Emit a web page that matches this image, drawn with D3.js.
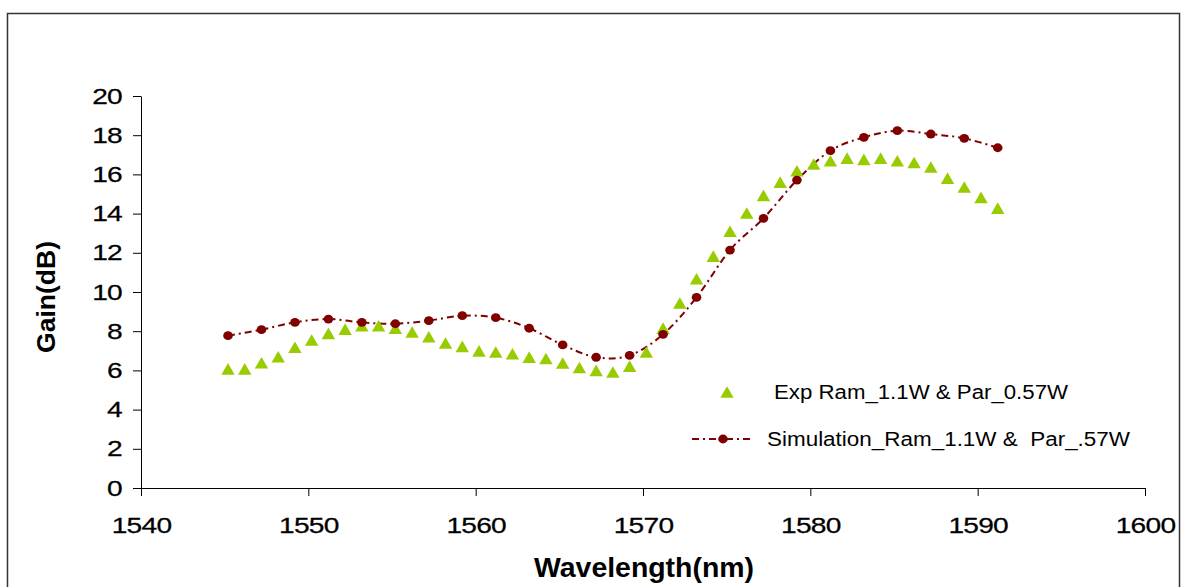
<!DOCTYPE html>
<html>
<head>
<meta charset="utf-8">
<script src="https://cdn.jsdelivr.net/npm/d3@7"></script>
<style>
  body { margin: 0; background: #fff; }
  text { font-family: Arial, "Liberation Sans", sans-serif; }
</style>
</head>
<body>
<div id="container"></div>
<script>
// measured data
const expWave = [1545.2, 1546.2, 1547.2, 1548.2, 1549.2, 1550.2, 1551.2, 1552.2, 1553.2, 1554.2,
    1555.2, 1556.2, 1557.2, 1558.2, 1559.2, 1560.2, 1561.2, 1562.2, 1563.2, 1564.2,
    1565.2, 1566.2, 1567.2, 1568.2, 1569.2, 1570.2, 1571.2, 1572.2, 1573.2, 1574.2,
    1575.2, 1576.2, 1577.2, 1578.2, 1579.2, 1580.2, 1581.2, 1582.2, 1583.2, 1584.2,
    1585.2, 1586.2, 1587.2, 1588.2, 1589.2, 1590.2, 1591.2];
const expGain = [5.98, 5.98, 6.29, 6.6, 7.08, 7.45, 7.79, 8.01, 8.18, 8.18,
    8.06, 7.86, 7.62, 7.3, 7.13, 6.9, 6.84, 6.75, 6.58, 6.51,
    6.28, 6.05, 5.9, 5.82, 6.12, 6.84, 8.06, 9.34, 10.58, 11.73,
    13.0, 13.93, 14.83, 15.51, 16.09, 16.43, 16.6, 16.73, 16.67, 16.73,
    16.6, 16.51, 16.28, 15.71, 15.26, 14.73, 14.18];

const simWave = [1545.2, 1547.2, 1549.2, 1551.2, 1553.2, 1555.2, 1557.2, 1559.2, 1561.2, 1563.2,
    1565.2, 1567.2, 1569.2, 1571.2, 1573.2, 1575.2, 1577.2, 1579.2, 1581.2, 1583.2,
    1585.2, 1587.2, 1589.2, 1591.2];
const simGain = [7.77, 8.08, 8.45, 8.62, 8.45, 8.38, 8.54, 8.79, 8.69, 8.15,
    7.3, 6.67, 6.77, 7.84, 9.73, 12.14, 13.76, 15.71, 17.21, 17.89,
    18.23, 18.06, 17.84, 17.36];

const xTicks = [1540, 1550, 1560, 1570, 1580, 1590, 1600];
const yTicks = [0, 2, 4, 6, 8, 10, 12, 14, 16, 18, 20];

const expLabel = "Exp Ram_1.1W & Par_0.57W";
const simLabel = "Simulation_Ram_1.1W &  Par_.57W";

const W = 1188, H = 587;
const green = "#99CC00", darkRed = "#800000";
const stretch = 1.28; // the original text is drawn wide

const svg = d3.select("#container")
    .append("svg")
    .attr("width", W)
    .attr("height", H);

svg.append("rect").attr("width", W).attr("height", H).attr("fill", "#fff");

// outer chart frame (bottom edge runs off the picture)
svg.append("rect")
    .attr("x", 7.5).attr("y", 13.5)
    .attr("width", 1172).attr("height", 600)
    .attr("fill", "none")
    .attr("stroke", "#333")
    .attr("stroke-width", 1.5);

const x = d3.scaleLinear().domain([1540, 1600]).range([141, 1145]);
const y = d3.scaleLinear().domain([0, 20]).range([488, 96]);

function tickText(sel) {
    sel.attr("font-size", 22)
        .attr("font-family", "Arial, 'Liberation Sans', sans-serif")
        .attr("letter-spacing", -0.6)
        .attr("fill", "#000")
        .attr("stroke", "#000")
        .attr("stroke-width", 0.25);
}

// Y axis
const yAxis = svg.append("g")
    .attr("transform", `translate(${x(1540)},0)`)
    .call(d3.axisLeft(y).tickValues(yTicks).tickSize(8).tickPadding(0).tickSizeOuter(0));
yAxis.selectAll("text")
    .attr("x", 0)
    .attr("transform", `translate(-19,0) scale(${stretch},1)`)
    .call(tickText);

// X axis
const xAxis = svg.append("g")
    .attr("transform", `translate(0,${y(0)})`)
    .call(d3.axisBottom(x).tickValues(xTicks).tickFormat(d3.format("d")).tickSize(8).tickSizeOuter(0));
xAxis.selectAll("text")
    .attr("y", 0)
    .attr("dy", 0)
    .attr("transform", `translate(0,45) scale(${stretch},1)`)
    .call(tickText);
svg.selectAll(".domain, .tick line").attr("stroke", "#000").attr("stroke-width", 1);

// axis titles
svg.append("text")
    .attr("x", 534).attr("y", 577)
    .attr("font-size", 27)
    .attr("font-weight", "bold")
    .attr("textLength", 220)
    .attr("lengthAdjust", "spacingAndGlyphs")
    .text("Wavelength(nm)");

svg.append("text")
    .attr("transform", "translate(55,297) rotate(-90)")
    .attr("text-anchor", "middle")
    .attr("font-size", 25)
    .attr("font-weight", "bold")
    .attr("textLength", 112)
    .attr("lengthAdjust", "spacingAndGlyphs")
    .text("Gain(dB)");

// simulation curve
const line = d3.line()
    .x(d => x(d[0]))
    .y(d => y(d[1]))
    .curve(d3.curveCardinal.tension(0));

const simData = d3.zip(simWave, simGain);
const expData = d3.zip(expWave, expGain);

svg.append("path")
    .datum(simData)
    .attr("d", line)
    .attr("fill", "none")
    .attr("stroke", darkRed)
    .attr("stroke-width", 2)
    .attr("stroke-dasharray", "7,4,2,4");

const tri = d3.symbol().type(d3.symbolTriangle).size(78);

svg.append("g").selectAll("path")
    .data(expData)
    .enter()
    .append("path")
    .attr("d", tri)
    .attr("transform", d => `translate(${x(d[0])},${y(d[1])})`)
    .attr("fill", green);

svg.append("g").selectAll("ellipse")
    .data(simData)
    .enter()
    .append("ellipse")
    .attr("cx", d => x(d[0]))
    .attr("cy", d => y(d[1]))
    .attr("rx", 4.8)
    .attr("ry", 4.4)
    .attr("fill", darkRed);

// legend
const legend = svg.append("g");
legend.append("path")
    .attr("d", tri)
    .attr("transform", "translate(727,394)")
    .attr("fill", green);
legend.append("text")
    .attr("x", 774).attr("y", 399)
    .attr("font-size", 20)
    .attr("textLength", 294)
    .attr("lengthAdjust", "spacingAndGlyphs")
    .text(expLabel);

legend.append("line")
    .attr("x1", 692).attr("x2", 753)
    .attr("y1", 439).attr("y2", 439)
    .attr("stroke", darkRed)
    .attr("stroke-width", 2)
    .attr("stroke-dasharray", "7,4,2,4");
legend.append("ellipse")
    .attr("cx", 723).attr("cy", 439)
    .attr("rx", 4.8).attr("ry", 4.4)
    .attr("fill", darkRed);
legend.append("text")
    .attr("x", 767).attr("y", 446)
    .attr("font-size", 20)
    .attr("textLength", 363)
    .attr("lengthAdjust", "spacingAndGlyphs")
    .style("white-space", "pre")
    .text(simLabel);
</script>
</body>
</html>
